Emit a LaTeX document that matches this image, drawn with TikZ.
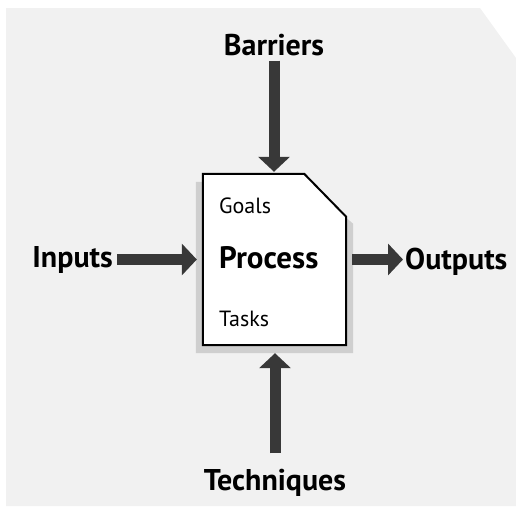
\documentclass[tikz,border=0pt]{standalone}
\usepackage{fontspec}
\setmainfont{PT Sans}
\usepackage{tikz}
\usetikzlibrary{arrows.meta,positioning}

\begin{document}
\begin{tikzpicture}[x=1pt,y=-1pt,
    label/.style={font=\fontsize{30}{36}\selectfont\bfseries,inner sep=0pt},
    inner/.style={font=\fontsize{22}{26}\selectfont,inner sep=0pt,anchor=base west},
    bold/.style={font=\fontsize{31}{36}\selectfont\bfseries},
    bigarrow/.style={line width=11pt,black!78,-{Triangle[width=31pt,length=15pt]}},
    area/.style={minimum width=143pt,minimum height=171pt,inner sep=0pt}]

    \useasboundingbox (0,0) rectangle (516,506);
    % The background
    \fill[gray!11] (6,8) -- (480,8) -- (516,58) -- (516,506) -- (6,506) -- cycle;

    % The box
    \node [area] at (274.5,259.5) (process) {};
    \fill[gray!38] ([xshift=-7pt,yshift=-8pt]process.south west)
        -- ([xshift=-7pt,yshift=-8pt]process.north west)
        -- ([xshift=-42pt,yshift=-8pt]process.north east)
        -- ([xshift=7pt,yshift=-50pt]process.north east)
        -- ([xshift=7pt,yshift=-8pt]process.south east) -- cycle;
    \draw[line width=2pt,fill=white] (process.south west) -- (process.north west)
        -- ([xshift=-42pt]process.north east) -- ([yshift=-43pt]process.north east)
        -- (process.south east) -- cycle;
    \node [inner] at (219,213) (goals) {Goals};
    \node [inner,bold] at (219,268) (proc) {Process};
    \node [inner] at (219,326) (tasks) {Tasks};

    % The labels
    \node [label,anchor=base] at (274,55) (barriers) {Barriers};
    \node [label,anchor=base east] at (113,267) (inputs) {Inputs};
    \node [label,anchor=base west] at (405,269) (outputs) {Outputs};
    \node [label,anchor=base] at (275,490) (techniques) {Techniques};

    % Arrows
    \draw[bigarrow,shorten <=5pt,shorten >=2pt] (barriers.south) -- (barriers.south |- process.north);
    \draw[bigarrow,shorten <=4pt,shorten >=6pt] (inputs.east |- process.west) -- (process.west);
    \draw[bigarrow,shorten <=6pt,shorten >=2pt] (process.east) -- (process.east -| outputs.west);
    \draw[bigarrow,shorten <=15pt,shorten >=8pt] (techniques.north) -- (techniques.north |- process.south);

\end{tikzpicture}
\end{document}
